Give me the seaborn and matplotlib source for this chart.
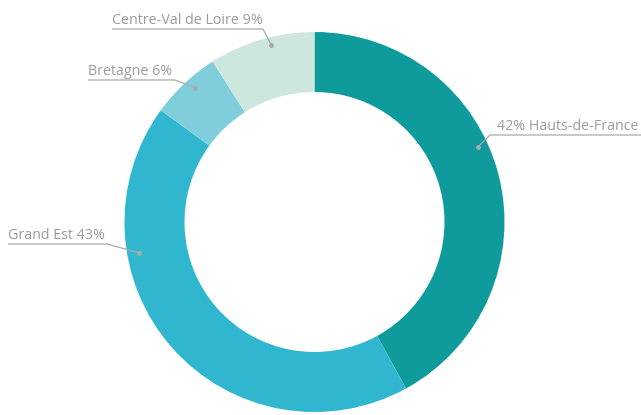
import matplotlib
matplotlib.use("Agg")
import matplotlib.pyplot as plt
import seaborn as sns
import numpy as np

regions = ["Hauts-de-France", "Grand Est", "Bretagne", "Centre-Val de Loire"]
shares = [42, 43, 6, 9]
labels = ["42% Hauts-de-France", "Grand Est 43%", "Bretagne 6%", "Centre-Val de Loire 9%"]
colors = ["#0f9a9b", "#30b7cf", "#80cedb", "#cde7df"]

sns.set_theme(style="white")
plt.rcParams['font.family'] = ['Open Sans', 'DejaVu Sans']

W, H = 641, 415
fig = plt.figure(figsize=(W / 100, H / 100), dpi=100)
ax = fig.add_axes([0, 0, 1, 1])

cx, cy = 314.5, H - 222
R = 190
ring = 60
wedges, _ = ax.pie(shares, colors=colors, startangle=90, counterclock=False,
                   radius=R, center=(cx, cy),
                   wedgeprops=dict(width=ring, linewidth=0))
ax.set_xlim(0, W)
ax.set_ylim(0, H)
ax.set_aspect('equal')
ax.axis('off')

# label layout: (dot angle deg, dot radius, elbow x, underline y, far x, side)
layout = {
    "Hauts-de-France": (24.7, 180, 490, 135, 641, "right"),
    "Grand Est": (190.0, 178, 107, 244, 8, "left"),
    "Bretagne": (131.7, 180, 175, 80, 88, "left"),
    "Centre-Val de Loire": (103.7, 182, 263, 29, 112, "left"),
}
line_c = "#a9a9a9"
text_c = "#9c9c9c"
for reg, lab in zip(regions, labels):
    ang, r, ex, uy, fx, side = layout[reg]
    dx = cx + r * np.cos(np.radians(ang))
    dy = cy + r * np.sin(np.radians(ang))
    ax.plot([dx, ex, fx], [dy, H - uy, H - uy], color=line_c, lw=0.9,
            solid_capstyle='butt', zorder=3)
    ax.plot([dx], [dy], 'o', ms=3.5, color=line_c, mec='none', zorder=4)
    if side == "right":
        tx = ex + 7
    else:
        tx = fx
    ax.text(tx, H - uy + 5, lab, ha='left', va='baseline', fontsize=10.3,
            color=text_c, zorder=5)

fig.savefig("out.png", dpi=100, facecolor="white")
